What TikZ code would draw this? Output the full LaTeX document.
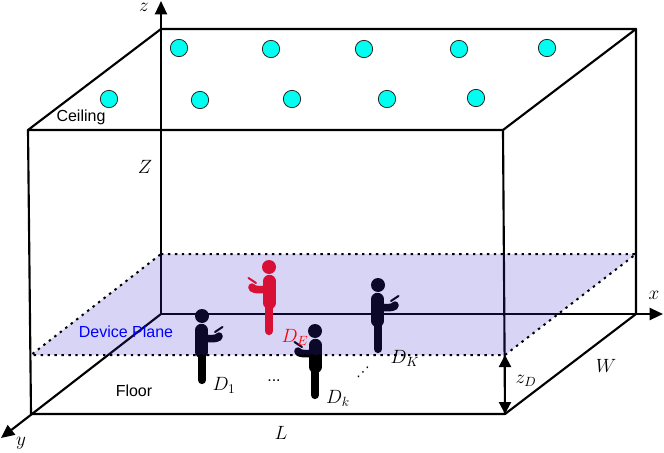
\documentclass[tikz,border=0pt]{standalone}
\usepackage{fontspec}
\setmainfont{Liberation Sans}
\newfontfamily\symfont{DejaVu Sans}
\usetikzlibrary{arrows.meta}
\definecolor{planefill}{RGB}{60,40,205}
\definecolor{lampcyan}{RGB}{0,255,240}
\definecolor{evered}{RGB}{255,10,15}
\tikzset{
  edge/.style={line width=1.6pt,line cap=round,line join=round},
  axis/.style={edge,-{Triangle[length=10pt,width=9pt]}},
  lamp/.style={circle,draw=black!85,line width=0.6pt,fill=lampcyan,minimum size=13pt,inner sep=0pt},
  plane/.style={line width=1.5pt,dash pattern=on 1.8pt off 3.4pt,line cap=butt},
  txt/.style={font=\fontsize{12pt}{14pt}\selectfont,inner sep=0pt},
  mth/.style={font=\fontsize{14.4pt}{16pt}\selectfont,inner sep=0pt},
}
\newcommand{\figperson}[4]{%
  \begin{scope}[shift={(#1,#2)},xscale=#3]
    \fill[#4] (0,0) circle (7);
    \draw[#4,line width=9.3pt,line cap=round] (-0.5,14) -- (-0.5,36);
    \draw[#4,line width=6.2pt,line cap=round] (0,36) -- (0,64);
    \draw[#4,line width=5.6pt,line cap=round,line join=round] (3,22) to[out=-10,in=190] (13,22.5) to[out=10,in=-110] (17,20);
    \fill[#4] (13,18.5) to[out=-20,in=180] (17,17.5) to[out=0,in=90] (20.6,21) to[out=-90,in=0] (15,25.5) -- (5,25.5) -- (5,20) -- cycle;
    \draw[#4,line width=1.5pt,line cap=round] (13,16) -- (20.5,11);
  \end{scope}}
\begin{document}
\begin{tikzpicture}[x=0.75pt,y=-0.75pt]
\useasboundingbox (0,0) rectangle (664,453);
% box corners
\coordinate (btl) at (161,29);
\coordinate (btr) at (636,29);
\coordinate (ftl) at (28,130);
\coordinate (ftr) at (503,130);
\coordinate (fbl) at (31,414);
\coordinate (fbr) at (505,414);
\coordinate (bbl) at (161,314);
\coordinate (bbr) at (636,314);
\coordinate (ztip) at (161,1);
\coordinate (xtip) at (663,314);
\coordinate (ytip) at (1,438);
\coordinate (pbl) at (161,254);
\coordinate (pbr) at (636,254);
\coordinate (pfl) at (31,355);
\coordinate (pfr) at (505,355);
% edges
\draw[edge] (btl) -- (btr) -- (ftr) -- (ftl) -- cycle;
\draw[edge] (ftl) -- (fbl) -- (fbr) -- (ftr);
\draw[edge] (btr) -- (bbr) -- (fbr);
\draw[axis] (bbl) -- (ztip);
\draw[axis] (bbl) -- (xtip);
\draw[axis] (bbl) -- (ytip);
% lamps
\foreach \n/\x/\y in {a/179/48,b/271/49,c/364/49,d/459/49,e/547/48,f/109/99,g/200/100,h/292/99,i/387/99,j/476/98}
  \node[lamp] (lamp\n) at (\x,\y) {};
% people
\figperson{202}{316}{1}{black}
\figperson{269}{267}{-1}{evered}
\figperson{315}{331}{-1}{black}
\figperson{378}{285}{1}{black}
% device plane
\fill[planefill,opacity=0.2] (pbl) -- (pbr) -- (pfr) -- (pfl) -- cycle;
\draw[plane] (pbl) -- (pbr) -- (pfr) -- (pfl) -- cycle;
% height arrow
\draw[edge,{Triangle[length=9pt,width=9pt]}-{Triangle[length=9pt,width=9pt]}] (pfr) -- (fbr);
% labels
\node[txt] (ceiling) at (81,117) {Ceiling};
\node[txt,text=blue] (devplane) at (126,332) {Device Plane};
\node[txt] (floor) at (134,390.5) {Floor};
\node[mth] (lz) at (144,7) {$z$};
\node[mth] (lZ) at (145,167) {$Z$};
\node[mth] (lx) at (654,295) {$x$};
\node[mth] (ly) at (21,443) {$y$};
\node[mth] (lL) at (281,433) {$L$};
\node[mth] (lW) at (606,366) {$W$};
\node[mth] (lzD) at (526,381) {$z_D$};
\node[mth] (lD1) at (224,385) {$D_1$};
\node[mth] (lDk) at (338,398) {$D_k$};
\node[mth] (lDK) at (405,358) {$D_K$};
\node[mth,text=red] (lDE) at (295,337) {$D_E$};
\node[txt] (hdots) at (274,381) {...};
\node[inner sep=0pt,font=\symfont\fontsize{10pt}{12pt}\selectfont] (vdots) at (363,372) {⋰};
\end{tikzpicture}
\end{document}
